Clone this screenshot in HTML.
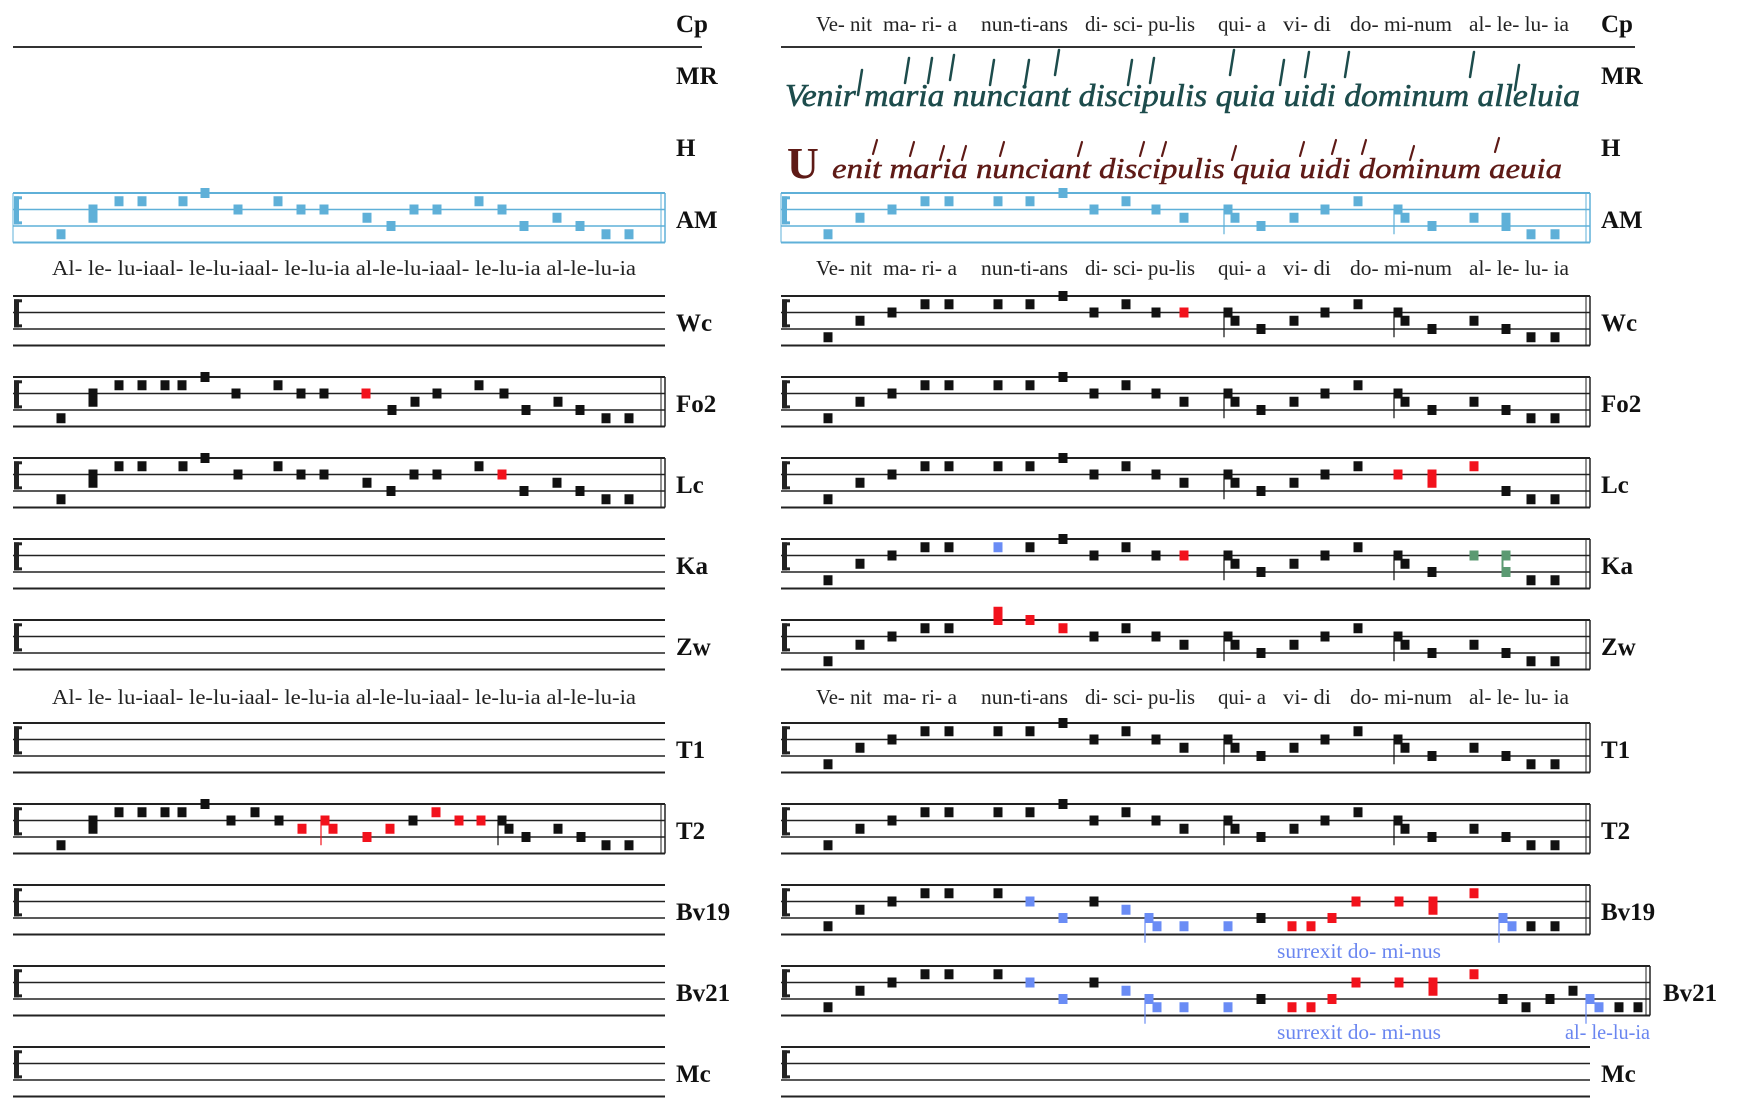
<!DOCTYPE html>
<html><head><meta charset="utf-8">
<style>
html,body{margin:0;padding:0;background:#fff;}
svg{display:block;}
.lab{font-family:"Liberation Serif",serif;font-weight:bold;font-size:25px;fill:#111;}
.lyr{font-family:"Liberation Serif",serif;font-size:21px;fill:#222;}
.bl{font-family:"Liberation Serif",serif;font-size:21px;fill:#6a86f0;}
.mr{font-family:"Liberation Serif",serif;font-style:italic;font-size:32px;fill:#1d4c4c;stroke:#1d4c4c;stroke-width:0.6;}
.hh{font-family:"Liberation Serif",serif;font-style:italic;font-size:29px;fill:#5e1a16;stroke:#5e1a16;stroke-width:0.5;}
</style></head>
<body>
<svg id="s" width="1737" height="1120" viewBox="0 0 1737 1120" xmlns="http://www.w3.org/2000/svg">
<g id="g"></g>
<line x1="13" y1="47" x2="702" y2="47" stroke="#333" stroke-width="2"/>
<line x1="781" y1="47" x2="1635" y2="47" stroke="#333" stroke-width="2"/>
<text class="lab" x="676" y="32">Cp</text><text class="lab" x="1601" y="32">Cp</text>
<text class="lab" x="676" y="84">MR</text><text class="lab" x="1601" y="84">MR</text>
<text class="lab" x="676" y="156">H</text><text class="lab" x="1601" y="156">H</text>
<text class="lab" x="676" y="228">AM</text><text class="lab" x="1601" y="228">AM</text>
<text class="lab" x="676" y="331">Wc</text><text class="lab" x="1601" y="331">Wc</text>
<text class="lab" x="676" y="412">Fo2</text><text class="lab" x="1601" y="412">Fo2</text>
<text class="lab" x="676" y="493">Lc</text><text class="lab" x="1601" y="493">Lc</text>
<text class="lab" x="676" y="574">Ka</text><text class="lab" x="1601" y="574">Ka</text>
<text class="lab" x="676" y="655">Zw</text><text class="lab" x="1601" y="655">Zw</text>
<text class="lab" x="676" y="758">T1</text><text class="lab" x="1601" y="758">T1</text>
<text class="lab" x="676" y="839">T2</text><text class="lab" x="1601" y="839">T2</text>
<text class="lab" x="676" y="920">Bv19</text><text class="lab" x="1601" y="920">Bv19</text>
<text class="lab" x="676" y="1001">Bv21</text><text class="lab" x="1663" y="1001">Bv21</text>
<text class="lab" x="676" y="1082">Mc</text><text class="lab" x="1601" y="1082">Mc</text>

<g id="ly">
<text class="lyr" x="816" y="31" textLength="56" lengthAdjust="spacingAndGlyphs">Ve- nit</text>
<text class="lyr" x="883" y="31" textLength="74" lengthAdjust="spacingAndGlyphs">ma- ri- a</text>
<text class="lyr" x="981" y="31" textLength="87" lengthAdjust="spacingAndGlyphs">nun-ti-ans</text>
<text class="lyr" x="1085" y="31" textLength="110" lengthAdjust="spacingAndGlyphs">di- sci- pu-lis</text>
<text class="lyr" x="1218" y="31" textLength="48" lengthAdjust="spacingAndGlyphs">qui- a</text>
<text class="lyr" x="1283" y="31" textLength="48" lengthAdjust="spacingAndGlyphs">vi-  di</text>
<text class="lyr" x="1350" y="31" textLength="102" lengthAdjust="spacingAndGlyphs">do-  mi-num</text>
<text class="lyr" x="1469" y="31" textLength="100" lengthAdjust="spacingAndGlyphs">al- le- lu- ia</text>
</g>
<use href="#ly" y="244"/>
<use href="#ly" y="673"/>
<text class="lyr" x="52" y="275" textLength="584" lengthAdjust="spacingAndGlyphs">Al- le- lu-iaal- le-lu-iaal-   le-lu-ia    al-le-lu-iaal-   le-lu-ia   al-le-lu-ia</text>
<text class="lyr" x="52" y="704" textLength="584" lengthAdjust="spacingAndGlyphs">Al- le- lu-iaal- le-lu-iaal-   le-lu-ia    al-le-lu-iaal-   le-lu-ia   al-le-lu-ia</text>

<text class="bl" x="1277" y="958" textLength="164" lengthAdjust="spacingAndGlyphs">surrexit do- mi-nus</text>
<text class="bl" x="1277" y="1039" textLength="164" lengthAdjust="spacingAndGlyphs">surrexit do- mi-nus</text>
<text class="bl" x="1565" y="1039" textLength="85" lengthAdjust="spacingAndGlyphs">al- le-lu-ia</text>

<text class="mr" x="785" y="106" textLength="795" lengthAdjust="spacingAndGlyphs">Venir maria nunciant discipulis quia uidi dominum alleluia</text>
<text x="787" y="178" style="font-family:'Liberation Serif',serif;font-size:44px;font-weight:bold;fill:#5e1a16">U</text>
<text class="hh" x="832" y="178" textLength="730" lengthAdjust="spacingAndGlyphs">enit maria nunciant discipulis quia uidi dominum aeuia</text>
<g id="strokes"></g>
</svg>
<script>
const NS="http://www.w3.org/2000/svg";
const G=document.getElementById('g');
function el(t,a){const e=document.createElementNS(NS,t);for(const k in a)e.setAttribute(k,a[k]);G.appendChild(e);return e;}
const SP=16.5;
function staff(x1,x2,top,col,framed,box){
  for(let i=0;i<4;i++){el('line',{x1:x1,x2:x2,y1:top+i*SP,y2:top+i*SP,stroke:col,'stroke-width':(i==0||i==3)?2:1.6});}
  el('rect',{x:x1+1,y:top+SP*0.2,width:5,height:SP*1.7,fill:col});
  el('rect',{x:x1+1,y:top+SP*0.2,width:8,height:3,fill:col});
  el('rect',{x:x1+1,y:top+SP*1.9-3,width:8,height:3,fill:col});
  if(framed){
    el('line',{x1:x2-4,x2:x2-4,y1:top,y2:top+3*SP,stroke:col,'stroke-width':1});
    el('line',{x1:x2,x2:x2,y1:top,y2:top+3*SP,stroke:col,'stroke-width':1.5});
    if(box) el('line',{x1:x1,x2:x1,y1:top,y2:top+3*SP,stroke:col,'stroke-width':1});
  }
}
function note(x,top,lv,col){const y=top+lv*SP/2;el('rect',{x:x-4.5,y:y-5,width:9,height:10,fill:col});}
const C={k:'#111',r:'#f2121c',b:'#6a8cf5',a:'#5fb0d8',g:'#5b9a72'};
function draw(list,top,def){
  for(const it of list){
    if(it[1]==='s'){const c=C[it[4]||def];note(it[0],top,it[2],c);note(it[0],top,it[3],c);
      el('rect',{x:it[0]-4.5,y:top+it[2]*SP/2,width:2,height:(it[3]-it[2])*SP/2,fill:c});}
    else if(it[1]==='c'){const c=C[it[5]||def];note(it[0],top,it[2],c);note(it[3],top,it[4],c);
      el('line',{x1:it[0]-4,x2:it[0]-4,y1:top+it[2]*SP/2,y2:top+(it[4]+2)*SP/2,stroke:c,'stroke-width':1.2});}
    else note(it[0],top,it[1],C[it[2]||def]);
  }
}
const LX1=13,LX2=665,RX1=781,RX2=1590;
const leftFo=[[61,5],[93,'s',2,3],[119,1],[142,1],[165,1],[182,1],[205,0],[236,2],[278,1],[301,2],[324,2],[366,2,'r'],[392,4],[415,3],[437,2],[479,1],[504,2],[526,4],[558,3],[580,4],[606,5],[629,5]];
const leftAM=[[61,5],[93,'s',2,3],[119,1],[142,1],[183,1],[205,0],[238,2],[278,1],[301,2],[324,2],[367,3],[391,4],[414,2],[437,2],[479,1],[502,2],[524,4],[557,3],[580,4],[606,5],[629,5]];
const leftLc=leftAM.map(n=>n[0]==502?[502,2,'r']:n);
const leftT2=[[61,5],[93,'s',2,3],[119,1],[142,1],[165,1],[182,1],[205,0],[231,2],[255,1],[279,2],[302,3,'r'],[325,'c',2,333,3,'r'],[367,4,'r'],[390,3,'r'],[413,2],[436,1,'r'],[459,2,'r'],[481,2,'r'],[502,'c',2,509,3],[526,4],[558,3],[581,4],[606,5],[629,5]];
function base(){return [[828,5],[860,3],[892,2],[925,1],[949,1],[998,1],[1030,1],[1063,0],[1094,2],[1126,1],[1156,2],[1184,3],[1228,'c',2,1235,3],[1261,4],[1294,3],[1325,2],[1358,1],[1398,'c',2,1405,3],[1432,4],[1474,3],[1506,4],[1531,5],[1555,5]];}
function mod(m){return base().map(n=>m[n[0]]!==undefined?m[n[0]]:n);}
const rWc=mod({1184:[1184,2,'r']});
const rAM=mod({1506:[1506,'s',3,4]});
const rLc=mod({1398:[1398,2,'r'],1432:[1432,'s',2,3,'r'],1474:[1474,1,'r']});
const rKa=mod({998:[998,1,'b'],1184:[1184,2,'r'],1474:[1474,2,'g'],1506:[1506,'s',2,4,'g']});
const rZw=mod({998:[998,'s',-1,0,'r'],1030:[1030,0,'r'],1063:[1063,1,'r']});
const bvHead=[[828,5],[860,3],[892,2],[925,1],[949,1],[998,1],[1030,2,'b'],[1063,4,'b'],[1094,2],[1126,3,'b'],[1149,'c',4,1157,5,'b'],[1184,5,'b'],[1228,5,'b'],[1261,4],[1292,5,'r'],[1311,5,'r'],[1332,4,'r'],[1356,2,'r'],[1399,2,'r'],[1433,'s',2,3,'r'],[1474,1,'r']];
const rBv19=bvHead.concat([[1503,'c',4,1512,5,'b'],[1531,5],[1555,5]]);
const rBv21=bvHead.concat([[1503,4],[1526,5],[1550,4],[1573,3],[1590,'c',4,1599,5,'b'],[1619,5],[1638,5]]);
const T={AM:193,Wc:296,Fo2:377,Lc:458,Ka:539,Zw:620,T1:723,T2:804,Bv19:885,Bv21:966,Mc:1047};
staff(LX1,LX2,T.AM,C.a,true,true);draw(leftAM,T.AM,'a');
staff(RX1,RX2,T.AM,C.a,true,true);draw(rAM,T.AM,'a');
staff(LX1,LX2,T.Wc,'#222',false);
staff(LX1,LX2,T.Fo2,'#222',true);draw(leftFo,T.Fo2,'k');
staff(LX1,LX2,T.Lc,'#222',true);draw(leftLc,T.Lc,'k');
staff(LX1,LX2,T.Ka,'#222',false);
staff(LX1,LX2,T.Zw,'#222',false);
staff(LX1,LX2,T.T1,'#222',false);
staff(LX1,LX2,T.T2,'#222',true);draw(leftT2,T.T2,'k');
staff(LX1,LX2,T.Bv19,'#222',false);
staff(LX1,LX2,T.Bv21,'#222',false);
staff(LX1,LX2,T.Mc,'#222',false);
staff(RX1,RX2,T.Wc,'#222',true);draw(rWc,T.Wc,'k');
staff(RX1,RX2,T.Fo2,'#222',true);draw(base(),T.Fo2,'k');
staff(RX1,RX2,T.Lc,'#222',true);draw(rLc,T.Lc,'k');
staff(RX1,RX2,T.Ka,'#222',true);draw(rKa,T.Ka,'k');
staff(RX1,RX2,T.Zw,'#222',true);draw(rZw,T.Zw,'k');
staff(RX1,RX2,T.T1,'#222',true);draw(base(),T.T1,'k');
staff(RX1,RX2,T.T2,'#222',true);draw(base(),T.T2,'k');
staff(RX1,RX2,T.Bv19,'#222',true);draw(rBv19,T.Bv19,'k');
staff(RX1,1650,T.Bv21,'#222',true);draw(rBv21,T.Bv21,'k');
staff(RX1,RX2,T.Mc,'#222',false);
const S=document.getElementById('strokes');
function st(x,y1,y2,c,w){const e=document.createElementNS(NS,'line');e.setAttribute('x1',x);e.setAttribute('x2',x+4);e.setAttribute('y1',y2);e.setAttribute('y2',y1);e.setAttribute('stroke',c);e.setAttribute('stroke-width',w||2.5);e.setAttribute('stroke-linecap','round');S.appendChild(e);}
[[858,70],[905,58],[928,58],[950,55],[990,60],[1025,60],[1055,50],[1128,60],[1150,58],[1230,50],[1280,60],[1305,52],[1345,52],[1470,52],[1515,65]].forEach(p=>st(p[0],p[1],p[1]+25,'#1d4c4c',2.5));
[[873,140],[910,142],[940,146],[962,146],[1000,142],[1078,142],[1140,142],[1162,142],[1232,146],[1300,142],[1332,140],[1362,140],[1410,146],[1495,138]].forEach(p=>st(p[0],p[1],p[1]+14,'#5e1a16',2.2));
</script>
</body></html>
